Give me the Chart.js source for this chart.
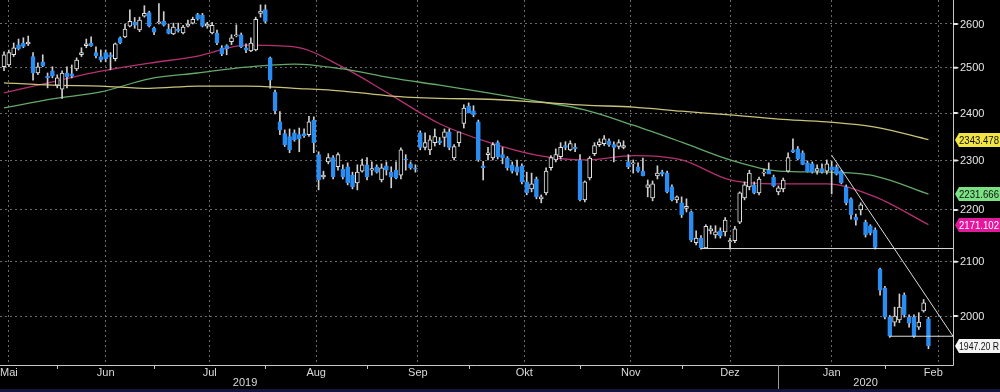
<!DOCTYPE html>
<html>
<head>
<meta charset="utf-8">
<script src="https://cdn.jsdelivr.net/npm/chart.js@4.4.1/dist/chart.umd.min.js"></script>
<style>
html,body{margin:0;padding:0;background:#000;overflow:hidden;}
canvas{display:block;}
</style>
</head>
<body>
<canvas id="c" width="1000" height="392"></canvas>
<script>
// ---- data (trading-day index = position in arrays) ----
const open = [2502,2506,2529,2552,2556,2554,2525,2488,2513,2481,2493,2461,2452,2488,2486,2497,2529,2550,2556,2534,2525,2534,2529,2520,2568,2570,
2595,2604,2586,2618,2627,2590,2603,2606,2588,2577,2588,2579,2595,2602,2622,2620,2595,2579,2579,2545,2550,2559,2572,2575,2545,2538,2540,2625,
2634,2522,2445,2381,2356,2350,2358,2354,2356,2354,2385,2312,2266,2297,2306,2287,2282,2287,2270,2254,2278,2291,2280,2287,2260,2289,2276,2280,2270,2303,2293,2285,
2358,2327,2322,2337,2341,2348,2360,2305,2337,2378,2415,2405,2381,2289,2312,2305,2337,2312,2305,2291,2287,2289,2256,2242,2262,2222,2234,2285,2301,2308,2331,2322,2327,
2301,2220,2264,2314,2333,2335,2341,2333,2329,2327,2297,2293,2287,2278,2245,2224,2268,2276,2274,2246,2220,
2214,2203,2196,2136,2145,2126,2159,2151,2159,2157,2138,2140,2176,2224,2246,2250,2234,2274,2280,2266,
2236,2242,2278,2322,2324,2316,2295,2293,2278,2283,2278,2287,2287,2278,2246,2222,2186,2200,2176,2169,2161,2086,
2051,1998,1989,1993,2038,1998,1998,1980,2009,1995];
const high = [2536,2540,2556,2565,2568,2572,2534,2511,2529,2488,2502,2484,2493,2502,2506,2522,2545,2565,2570,2547,2540,2540,2534,2556,2570,2600,
2633,2615,2616,2643,2630,2593,2648,2629,2600,2602,2602,2597,2609,2616,2625,2625,2604,2604,2586,2550,2552,2575,2598,2579,2554,2568,2616,2645,
2645,2524,2450,2403,2364,2366,2364,2368,2366,2393,2392,2318,2278,2314,2310,2316,2291,2295,2276,2291,2303,2306,2297,2291,2293,2297,2287,2297,2326,2312,2297,2291,
2362,2358,2352,2366,2348,2366,2366,2333,2356,2418,2422,2416,2385,2298,2327,2337,2341,2327,2308,2297,2301,2293,2276,2274,2266,2230,2285,2310,2324,2337,2339,2341,2335,
2312,2258,2308,2337,2345,2352,2345,2339,2343,2341,2312,2301,2295,2305,2260,2258,2289,2280,2278,2250,2228,
2226,2222,2198,2159,2150,2171,2169,2169,2165,2185,2145,2168,2236,2256,2280,2256,2266,2282,2295,2270,
2248,2264,2316,2345,2329,2320,2299,2297,2291,2293,2301,2298,2291,2280,2250,2224,2192,2214,2180,2171,2165,2088,
2054,2001,2016,2040,2042,2002,2002,2006,2030,1998];
const low = [2493,2502,2525,2540,2545,2550,2472,2484,2502,2455,2477,2455,2432,2455,2477,2493,2525,2545,2548,2522,2513,2513,2495,2515,2554,2568,
2593,2590,2582,2616,2593,2575,2600,2595,2577,2575,2581,2577,2593,2600,2609,2593,2590,2577,2552,2527,2529,2552,2570,2545,2534,2536,2538,2616,
2602,2454,2398,2354,2329,2316,2340,2318,2348,2350,2316,2240,2262,2293,2262,2280,2262,2250,2242,2240,2276,2260,2270,2274,2256,2270,2244,2262,2262,2280,2282,2276,
2322,2322,2312,2330,2333,2329,2322,2301,2329,2368,2405,2392,2298,2260,2301,2301,2303,2293,2280,2274,2270,2252,2230,2236,2222,2214,2230,2280,2297,2303,2322,2320,2318,
2218,2216,2260,2310,2329,2331,2329,2297,2324,2324,2283,2274,2276,2268,2226,2218,2262,2268,2234,2218,2214,
2185,2196,2138,2132,2124,2126,2153,2145,2145,2149,2124,2136,2173,2220,2240,2232,2230,2268,2274,2246,
2230,2236,2276,2316,2301,2291,2276,2274,2272,2274,2272,2232,2270,2252,2210,2182,2170,2190,2147,2151,2124,2038,
1995,1962,1982,1988,1998,1980,1962,1976,2007,1942];
const close = [2529,2534,2545,2543,2548,2558,2488,2502,2504,2477,2481,2477,2488,2479,2481,2517,2534,2554,2550,2527,2517,2520,2525,2554,2556,2588,
2606,2597,2609,2625,2595,2581,2605,2597,2578,2593,2584,2593,2600,2611,2611,2595,2600,2597,2556,2531,2543,2568,2575,2547,2540,2556,2611,2630,
2606,2472,2405,2364,2333,2322,2343,2345,2352,2381,2337,2260,2270,2306,2266,2312,2266,2254,2246,2276,2291,2266,2283,2276,2285,2280,2266,2264,2322,2301,2285,2282,
2327,2337,2343,2350,2337,2360,2327,2329,2360,2411,2400,2396,2301,2285,2316,2333,2308,2305,2285,2278,2276,2256,2234,2252,2226,2226,2278,2306,2312,2327,2327,2335,2324,
2220,2256,2305,2331,2339,2345,2333,2327,2337,2331,2287,2295,2278,2269,2250,2252,2274,2272,2236,2220,2226,
2190,2207,2141,2145,2126,2168,2163,2157,2149,2180,2140,2163,2234,2250,2274,2234,2262,2276,2272,2248,
2244,2260,2306,2317,2303,2292,2277,2276,2283,2276,2293,2280,2272,2254,2214,2190,2180,2210,2151,2155,2127,2047,
1998,1964,2000,2016,2002,1987,1964,1989,2024,1947.2];

// moving averages, read at sample days
const maDays   = [0,10,20,30,40,50,60,70,80,90,100,110,120,130,140,150,160,170,180,191];
const maRed    = [2444,2468,2492,2510,2526,2551,2547,2501,2439,2377,2338,2311,2301,2310,2301,2260,2252,2252,2226,2171.102];
const maGreen  = [2411,2431,2446,2475,2488,2501,2508,2497,2477,2461,2444,2426,2407,2374,2338,2301,2278,2276,2268,2231.666];
const maYellow = [2466,2461,2459,2454,2459,2459,2454,2448,2437,2432,2430,2424,2417,2413,2404,2396,2387,2381,2370,2343.478];

// drawn trend lines: [startDay, startValue, endDay, endValue]
const supportLine = [144, 2125, 196.07, 2125];
const lowLine     = [183, 1964, 196.07, 1964];
const trendLine   = [171, 2311, 196.07, 1964];

// axes
const months     = ['Mai','Jun','Jul','Aug','Sep','Okt','Nov','Dez','Jan','Feb'];
const monthStart = [-11, 11, 31, 54, 75, 96, 119, 140, 160, 182, 202];
const years      = ['2019','2020'];
const yearPos    = [49.8, 178];
const yearBreak  = 160;
const yTicks     = [2000,2100,2200,2300,2400,2500,2600];
const lastPrice  = 1947.20;

const X_MIN = -0.83, X_MAX = 196.07, Y_MIN = 1913.9, Y_MAX = 2656.6;
const BLUE = '#2a8df2';

const days = open.map((_, i) => i);
const isUp = days.map(i => close[i] >= open[i]);

function pts(xs, ys){ return xs.map((x,i)=>({x:x, y:ys[i]})); }
function seg(a){ return [{x:a[0],y:a[1]},{x:a[2],y:a[3]}]; }

const lineDs = (data, color, order) => ({
  type:'line', data, borderColor:color, borderWidth:1.3, pointRadius:0,
  cubicInterpolationMode:'monotone', order, clip:0
});
const trendDs = (data) => ({
  type:'line', data, borderColor:'#dcdcdc', borderWidth:1, pointRadius:0, order:0
});

const FONT = '"Liberation Sans", Arial, sans-serif';

const overlay = {
  id:'overlay',
  beforeDraw(chart){
    const ctx = chart.ctx;
    ctx.save(); ctx.fillStyle='#000'; ctx.fillRect(0,0,chart.width,chart.height); ctx.restore();
  },
  afterDraw(chart){
    const ctx = chart.ctx, a = chart.chartArea;
    const xs = chart.scales.x, ys = chart.scales.y;
    ctx.save();
    // frame
    ctx.strokeStyle = '#c8c8c8'; ctx.lineWidth = 1;
    ctx.beginPath();
    ctx.moveTo(Math.round(a.right)+0.5, 0); ctx.lineTo(Math.round(a.right)+0.5, Math.round(a.bottom)+0.5);
    ctx.moveTo(0, Math.round(a.bottom)+0.5); ctx.lineTo(Math.round(a.right)+0.5, Math.round(a.bottom)+0.5);
    ctx.stroke();
    // x tick marks
    ctx.beginPath();
    monthStart.forEach(m => {
      if (m < X_MIN || m > X_MAX) return;
      const px = Math.round(xs.getPixelForValue(m))+0.5;
      ctx.moveTo(px, a.bottom); ctx.lineTo(px, a.bottom+4);
    });
    ctx.stroke();
    // year separator
    const yb = Math.round(xs.getPixelForValue(yearBreak))+0.5;
    ctx.strokeStyle = '#9a9a9a';
    ctx.beginPath(); ctx.moveTo(yb, a.bottom); ctx.lineTo(yb, 389); ctx.stroke();
    // month labels
    ctx.fillStyle = '#dadada';
    ctx.font = '11px ' + FONT;
    ctx.textBaseline = 'middle'; ctx.textAlign = 'center';
    for (let k=0;k<months.length;k++){
      const mid = (monthStart[k]+monthStart[k+1])/2;
      let px = xs.getPixelForValue(mid);
      const w = ctx.measureText(months[k]).width;
      if (px - w/2 < 0) px = w/2;
      ctx.fillText(months[k], px, 373);
    }
    years.forEach((t,k)=>{ ctx.fillText(t, xs.getPixelForValue(yearPos[k]), 383); });
    // y ticks: markers and labels
    ctx.textAlign = 'left';
    yTicks.forEach(v => {
      const py = ys.getPixelForValue(v);
      ctx.fillStyle = '#e6e6e6';
      ctx.beginPath();
      ctx.moveTo(a.right, py-1); ctx.lineTo(a.right+4, py-1); ctx.lineTo(a.right+6, py);
      ctx.lineTo(a.right+4, py+1); ctx.lineTo(a.right, py+1); ctx.closePath(); ctx.fill();
      ctx.fillText(String(v), a.right+7, py+0.5);
    });
    // value tags
    function tag(v, text, bg, fg){
      const py = Math.round(ys.getPixelForValue(v));
      ctx.fillStyle = bg;
      ctx.beginPath();
      ctx.moveTo(a.right+2, py); ctx.lineTo(a.right+6, py-7); ctx.lineTo(1000, py-7);
      ctx.lineTo(1000, py+7); ctx.lineTo(a.right+6, py+7); ctx.closePath(); ctx.fill();
      ctx.fillStyle = fg; ctx.font = '11px ' + FONT;
      ctx.textAlign='left'; ctx.textBaseline='middle';
      const avail = 1000 - (a.right+6) - 1;
      const w = ctx.measureText(text).width;
      const sx = Math.min(1, avail / w);
      ctx.save();
      ctx.translate(a.right+6, py+0.5);
      ctx.scale(sx, 1);
      ctx.fillText(text, 0, 0);
      ctx.restore();
    }
    tag(maYellow[maYellow.length-1], maYellow[maYellow.length-1].toFixed(3), '#f1e444', '#111');
    tag(maGreen[maGreen.length-1], maGreen[maGreen.length-1].toFixed(3), '#7be283', '#111');
    tag(maRed[maRed.length-1], maRed[maRed.length-1].toFixed(3), '#e4189c', '#fff');
    tag(lastPrice, lastPrice.toFixed(2)+' R', '#f4f4f4', '#111');
    // bottom strip
    ctx.fillStyle = '#13153a';
    ctx.fillRect(0, 389, 1000, 3);
    ctx.restore();
  }
};

new Chart(document.getElementById('c'), {
  type:'bar',
  data:{
    datasets:[
      lineDs(pts(maDays, maYellow), '#c9c27a', 6),
      lineDs(pts(maDays, maGreen), '#64a96a', 6),
      lineDs(pts(maDays, maRed), '#b63072', 6),
      { type:'bar', data: days.map(i=>({x:i, y:[low[i], high[i]]})), backgroundColor:'#cfcfcf',
        barThickness:1, grouped:false, order:5, borderWidth:0 },
      { type:'bar', data: days.map(i=>({x:i, y:[open[i], close[i]]})),
        backgroundColor: days.map(i=> isUp[i] ? '#000' : BLUE),
        borderColor: days.map(i=> isUp[i] ? '#e4e4e4' : BLUE),
        borderWidth:1, borderSkipped:false, barThickness:4, grouped:false, order:4 },
      trendDs(seg(supportLine)),
      trendDs(seg(lowLine)),
      trendDs(seg(trendLine))
    ]
  },
  options:{
    responsive:false, devicePixelRatio:1, animation:false,
    layout:{padding:0},
    plugins:{legend:{display:false}, tooltip:{enabled:false}},
    scales:{
      x:{ type:'linear', min:X_MIN, max:X_MAX, offset:false,
          ticks:{display:false},
          grid:{color:'#6a6a6a', drawTicks:false, lineWidth:1},
          border:{display:false, dash:[2,3]},
          afterBuildTicks(s){ s.ticks = monthStart.filter(m=>m>=X_MIN && m<=X_MAX).map(v=>({value:v})); },
          afterFit(s){ s.height = 27; } },
      y:{ type:'logarithmic', position:'right', min:Y_MIN, max:Y_MAX,
          ticks:{display:false},
          grid:{color:'#6a6a6a', drawTicks:false, lineWidth:1},
          border:{display:false, dash:[2,3]},
          afterBuildTicks(s){ s.ticks = yTicks.map(v=>({value:v})); },
          afterFit(s){ s.width = 47; } }
    }
  },
  plugins:[overlay]
});
</script>
</body>
</html>
